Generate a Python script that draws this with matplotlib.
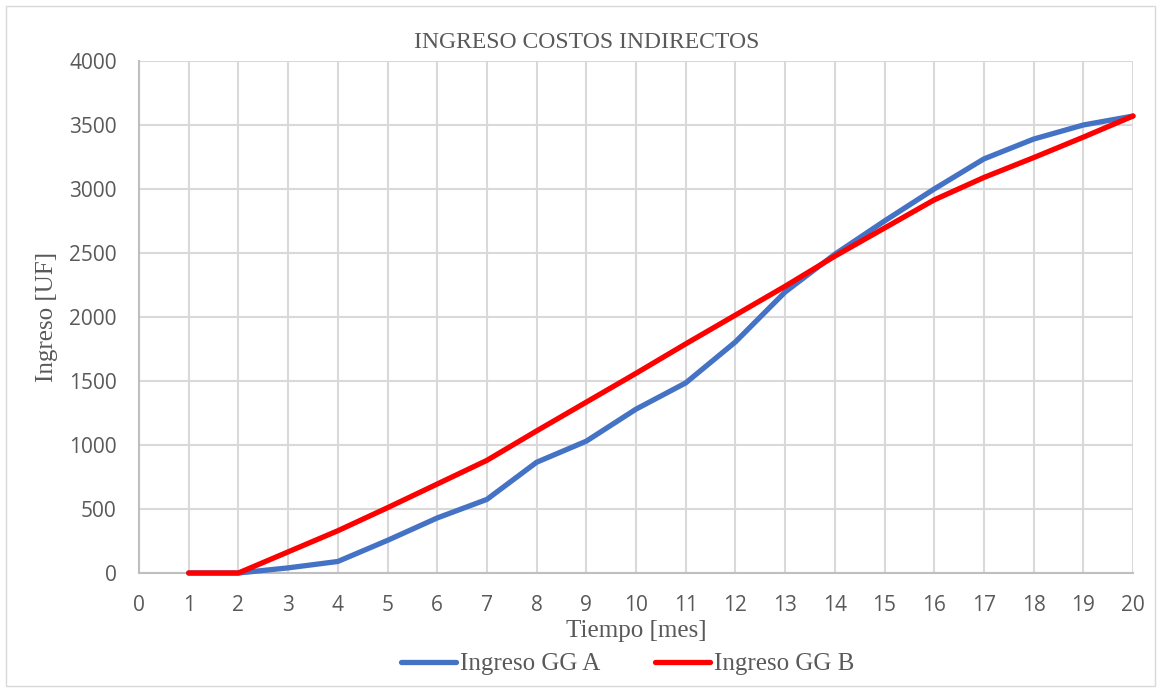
import matplotlib.pyplot as plt
from matplotlib.patches import Rectangle

meses = list(range(1, 21))
ingreso_a = [0, 0, 40, 90, 255, 430, 575, 865, 1030, 1280, 1485, 1805,
             2195, 2490, 2750, 3000, 3235, 3390, 3500, 3570]
ingreso_b = [0, 0, 165, 330, 510, 695, 880, 1110, 1335, 1560, 1790, 2015,
             2240, 2475, 2695, 2915, 3090, 3245, 3405, 3570]

fig = plt.figure(figsize=(11.61, 6.92), dpi=100)
ax = fig.add_axes([139 / 1161, 1 - 573 / 692, (1133 - 139) / 1161, (573 - 61) / 692])

# borde exterior del grafico
fig.patches.append(Rectangle((6 / 1161, 6 / 692), 1 - 12 / 1161, 1 - 12 / 692,
                             transform=fig.transFigure, fill=False,
                             edgecolor='#d9d9d9', linewidth=1))

ax.plot(meses, ingreso_a, color='#4472c4', linewidth=3.8, label='Ingreso GG A',
        solid_capstyle='round', solid_joinstyle='round', clip_on=False, zorder=3)
ax.plot(meses, ingreso_b, color='#ff0000', linewidth=3.8, label='Ingreso GG B',
        solid_capstyle='round', solid_joinstyle='round', clip_on=False, zorder=4)

ax.set_xlim(0, 20)
ax.set_ylim(0, 4000)
ax.set_xticks(range(0, 21))
ax.set_yticks(range(0, 4001, 500))
ax.grid(True, color='#d9d9d9', linewidth=1.5)
ax.set_axisbelow(True)
for s in ['top', 'right']:
    ax.spines[s].set_visible(False)
ax.spines['left'].set_color('#bfbfbf')
ax.spines['bottom'].set_color('#bfbfbf')
ax.spines['left'].set_linewidth(1.5)
ax.spines['bottom'].set_linewidth(1.5)
ax.tick_params(length=0, labelsize=15, labelcolor='#595959')
ax.tick_params(axis='x', pad=16)
ax.tick_params(axis='y', pad=16)
for lbl in ax.get_xticklabels() + ax.get_yticklabels():
    lbl.set_family('Open Sans')

serif = {'family': 'Liberation Serif', 'color': '#595959'}
fig.text(587 / 1161, 1 - 42 / 692, 'INGRESO COSTOS INDIRECTOS', fontsize=17,
         ha='center', va='center', **serif)
ax.set_xlabel('Tiempo [mes]', fontsize=18, labelpad=3, **serif)
ax.set_ylabel('Ingreso [UF]', fontsize=18, labelpad=8, **serif)

leg = fig.legend(loc='center', bbox_to_anchor=(628 / 1161, 1 - 664 / 692), ncol=2,
                 frameon=False, prop={'family': 'Liberation Serif', 'size': 18},
                 handlelength=2.2, handletextpad=0.15, columnspacing=2.2)
for t in leg.get_texts():
    t.set_color('#595959')

fig.savefig('out.png', dpi=100)
